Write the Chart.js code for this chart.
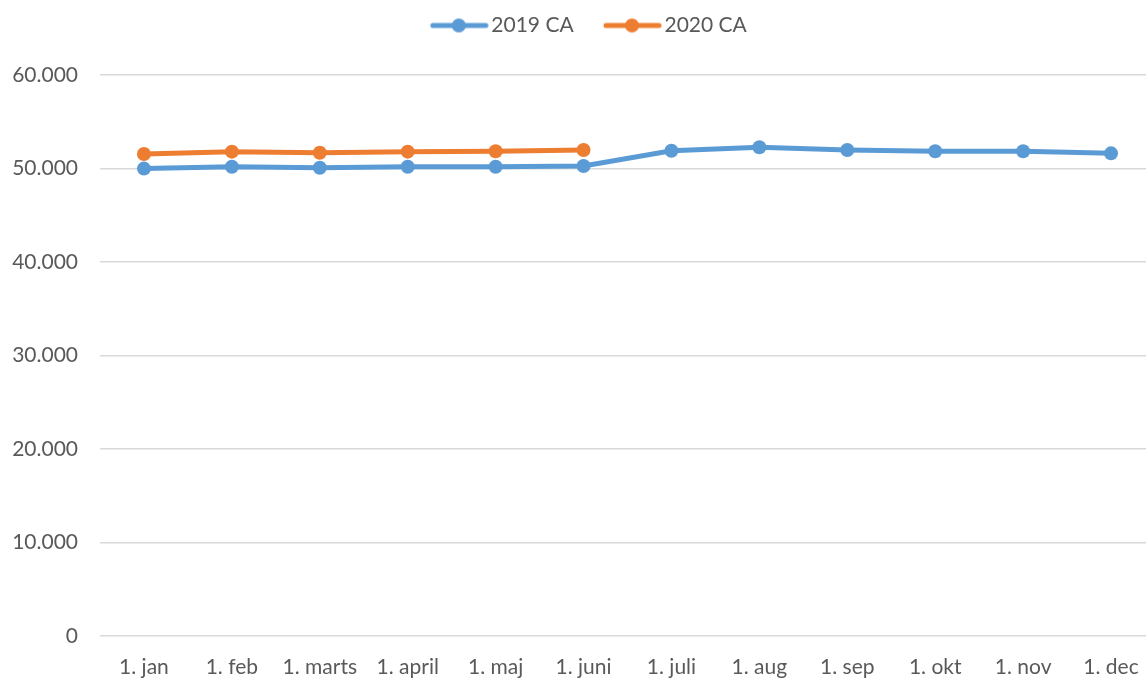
<!DOCTYPE html>
<html>
<head>
<meta charset="utf-8">
<script src="https://cdn.jsdelivr.net/npm/chart.js@4.4.0/dist/chart.umd.min.js"></script>
<style>
html,body{margin:0;padding:0;background:#fff;overflow:hidden;}
#wrap{width:1146px;height:679px;position:relative;overflow:hidden;}
canvas{display:block;}
</style>
</head>
<body>
<div id="wrap"><canvas id="c" width="1166" height="679"></canvas></div>
<script>
const categories = ["1. jan","1. feb","1. marts","1. april","1. maj","1. juni","1. juli","1. aug","1. sep","1. okt","1. nov","1. dec"];
const series2019 = [49990,50190,50080,50190,50190,50260,51900,52270,51980,51840,51840,51620];
const series2020 = [51550,51800,51690,51800,51840,51980,null,null,null,null,null,null];
const yTicks = [0,10000,20000,30000,40000,50000,60000];

const BLUE = "#5B9BD5", ORANGE = "#ED7D31", TEXT = "#595959";
const FONT = 'Lato';

function legendSymbol(color){
  const cv = document.createElement('canvas');
  cv.width = 76; cv.height = 16;
  const g = cv.getContext('2d');
  g.strokeStyle = color; g.lineWidth = 5; g.lineCap = 'round';
  g.beginPath(); g.moveTo(20,8); g.lineTo(73,8); g.stroke();
  g.fillStyle = color; g.beginPath(); g.arc(46,8,7,0,Math.PI*2); g.fill();
  return cv;
}
const symbols = [legendSymbol(BLUE), legendSymbol(ORANGE)];

function fmt(v){ return v===0 ? "0" : v.toLocaleString('de-DE'); }

const legendShift = {
  id: 'legendShift',
  afterLayout(chart){
    const l = chart.legend;
    if (l) { l.left += 9; l.right += 9; }
  }
};

new Chart(document.getElementById('c'), {
  type: 'line',
  data: {
    labels: categories,
    datasets: [
      {label:"2019 CA", data: series2019, borderColor: BLUE, backgroundColor: BLUE, borderWidth: 5, pointRadius: 7, pointHoverRadius: 7, pointBackgroundColor: BLUE, pointBorderWidth: 0, tension: 0},
      {label:"2020 CA", data: series2020, borderColor: ORANGE, backgroundColor: ORANGE, borderWidth: 5, pointRadius: 7, pointHoverRadius: 7, pointBackgroundColor: ORANGE, pointBorderWidth: 0, tension: 0, spanGaps: false}
    ]
  },
  plugins: [legendShift],
  options: {
    responsive: false,
    animation: false,
    layout: { padding: { top: 0, right: 11, left: 0, bottom: 0 } },
    plugins: {
      tooltip: { enabled: false },
      title: { display: true, text: ' ', weight: 500, position: 'top', font: { size: 10, lineHeight: 1 }, padding: { top: 0, bottom: 19 } },
      legend: {
        position: 'top',
        labels: {
          font: { family: FONT, size: 21 },
          color: TEXT,
          usePointStyle: true,
          pointStyleWidth: 60,
          padding: 15,
          generateLabels(chart){
            return chart.data.datasets.map((ds,i)=>({
              text: ds.label + ' ', fillStyle: ds.borderColor, strokeStyle: ds.borderColor,
              lineWidth: 0, pointStyle: symbols[i], datasetIndex: i, hidden: false, fontColor: TEXT
            }));
          }
        }
      }
    },
    scales: {
      x: {
        offset: true,
        grid: { display: false },
        border: { display: false },
        ticks: { font: { family: FONT, size: 21 }, color: TEXT, padding: 11, maxRotation: 0, autoSkip: false },
        afterFit(s){ s.height = 43; }
      },
      y: {
        min: 0, max: 60000,
        afterBuildTicks(s){ s.ticks = yTicks.map(v=>({value:v})); },
        grid: { color: '#D9D9D9', lineWidth: 1.5, drawTicks: false },
        border: { display: false },
        ticks: { font: { family: FONT, size: 21 }, color: TEXT, padding: 22, callback: v => fmt(v) },
        afterFit(s){ s.width = 100; }
      }
    }
  }
});
</script>
</body>
</html>
